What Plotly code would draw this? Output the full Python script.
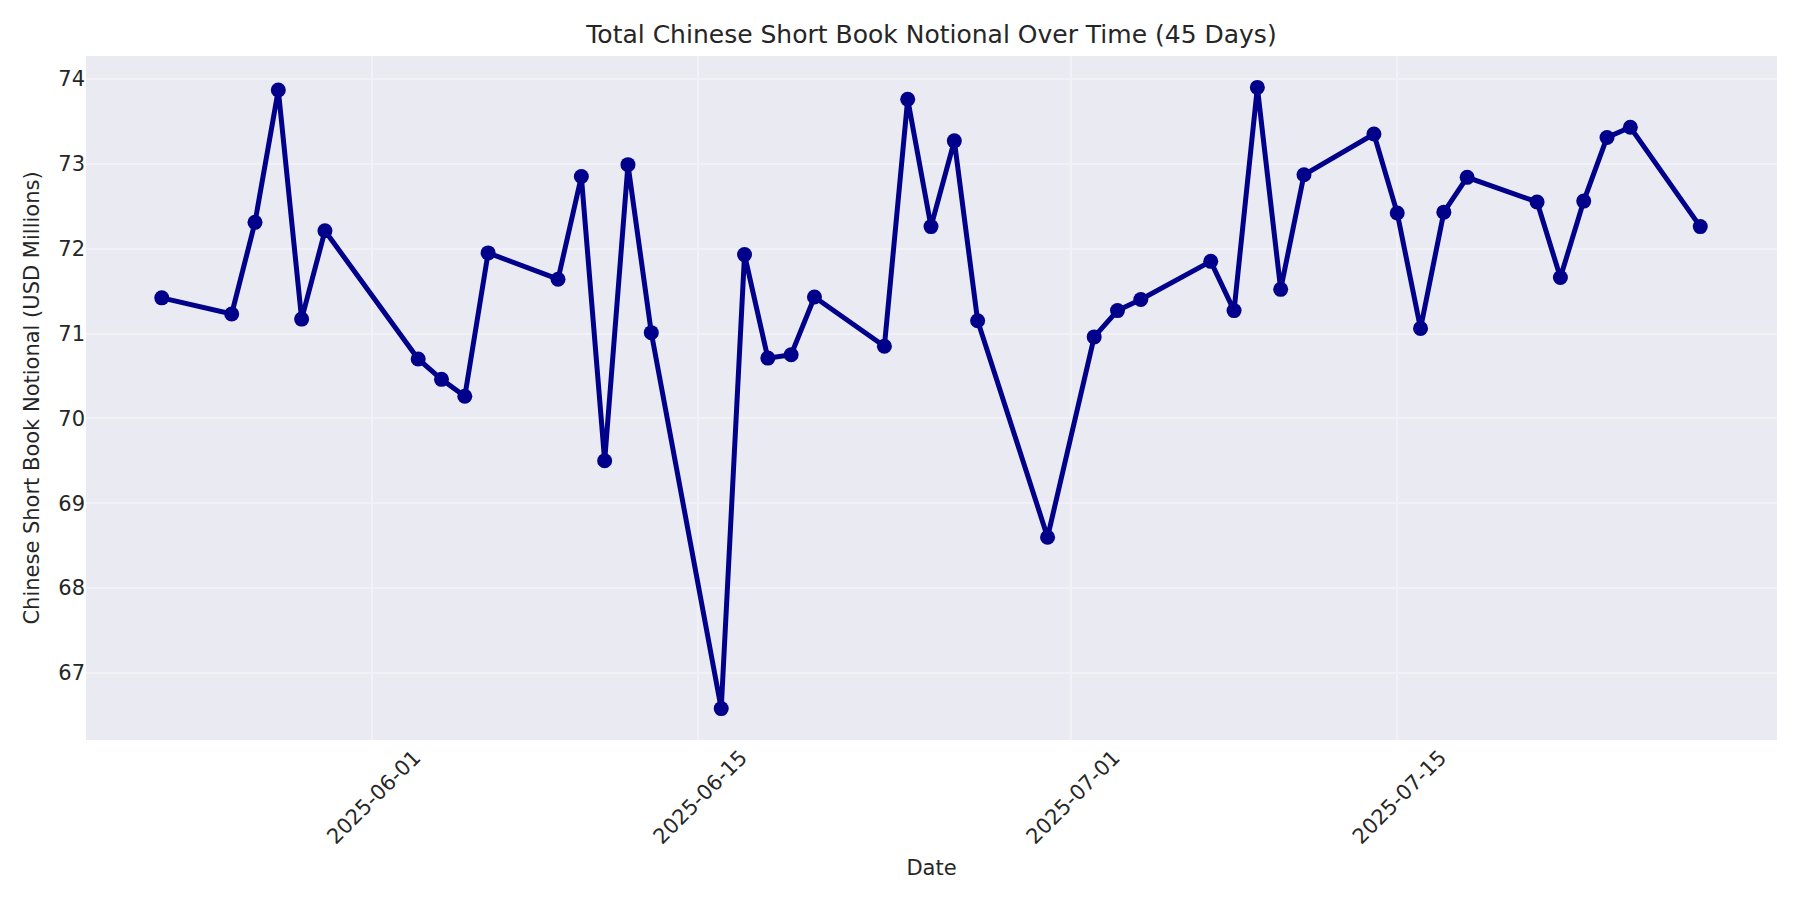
import plotly.graph_objects as go

# Trading days shown in the chart (45 business days)
dates = [
    "2025-05-23", "2025-05-26", "2025-05-27", "2025-05-28", "2025-05-29", "2025-05-30",
    "2025-06-03", "2025-06-04", "2025-06-05", "2025-06-06",
    "2025-06-09", "2025-06-10", "2025-06-11", "2025-06-12", "2025-06-13",
    "2025-06-16", "2025-06-17", "2025-06-18", "2025-06-19", "2025-06-20",
    "2025-06-23", "2025-06-24", "2025-06-25", "2025-06-26", "2025-06-27",
    "2025-06-30", "2025-07-02", "2025-07-03", "2025-07-04",
    "2025-07-07", "2025-07-08", "2025-07-09", "2025-07-10", "2025-07-11",
    "2025-07-14", "2025-07-15", "2025-07-16", "2025-07-17", "2025-07-18",
    "2025-07-21", "2025-07-22", "2025-07-23", "2025-07-24", "2025-07-25",
    "2025-07-28",
]

# Total short book notional, USD millions
notional = [
    71.42, 71.23, 72.31, 73.87, 71.17, 72.21,
    70.70, 70.46, 70.26, 71.95,
    71.64, 72.85, 69.50, 72.99, 71.01,
    66.58, 71.93, 70.71, 70.75, 71.43,
    70.85, 73.76, 72.26, 73.27, 71.15,
    68.60, 70.96, 71.27, 71.40,
    71.85, 71.27, 73.90, 71.52, 72.87,
    73.35, 72.42, 71.06, 72.43, 72.84,
    72.55, 71.66, 72.56, 73.31, 73.43,
    72.26,
]

tick_dates = ["2025-06-01", "2025-06-15", "2025-07-01", "2025-07-15"]
x_range = ["2025-05-19 18:00", "2025-07-31 07:00"]
y_range = [66.21, 74.27]

text_color = "#262626"
bg_color = "#EAEAF2"
grid_color = "#F2F2F6"

fig = go.Figure()

fig.add_trace(go.Scatter(
    x=dates, y=notional,
    mode="lines+markers",
    line=dict(color="#00008B", width=5),
    marker=dict(color="#00008B", size=15),
    showlegend=False,
))

# the page body adds an 8px offset, margins below account for it
fig.update_layout(
    width=1800, height=900,
    margin=dict(l=78, r=31, t=48, b=168),
    paper_bgcolor="white",
    plot_bgcolor=bg_color,
    font=dict(family="DejaVu Sans", size=21, color=text_color),
    title=dict(
        text="Total Chinese Short Book Notional Over Time (45 Days)",
        xref="paper", x=0.5, xanchor="center", y=1 - 26 / 900, yanchor="middle",
        font=dict(size=25, color=text_color),
    ),
    xaxis=dict(
        type="date",
        range=x_range,
        tickvals=tick_dates,
        ticktext=tick_dates,
        tickangle=-45,
        ticklabelshift=43,
        showgrid=True, gridcolor=grid_color, gridwidth=1.5,
        zeroline=False, showline=False, ticks="",
        tickfont=dict(size=21),
        title=dict(text="Date", font=dict(size=21), standoff=12),
    ),
    yaxis=dict(
        range=y_range,
        tickvals=[67, 68, 69, 70, 71, 72, 73, 74],
        showgrid=True, gridcolor=grid_color, gridwidth=1.5,
        zeroline=False, showline=False, ticks="",
        tickfont=dict(size=21),
        title=dict(text="Chinese Short Book Notional (USD Millions)", font=dict(size=21), standoff=12),
    ),
)

fig.write_html("out.html")
